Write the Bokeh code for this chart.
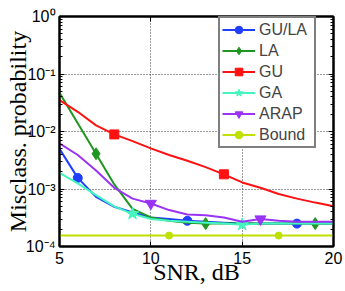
from bokeh.plotting import figure
from bokeh.models import (FixedTicker, CustomJSTickFormatter, Legend, LegendItem,
                          LinearAxis, LogAxis, CustomLabelingPolicy)
from bokeh.embed import file_html
from bokeh.resources import INLINE

snr = [5, 6, 7, 8, 9, 10, 11, 12, 13, 14, 15, 16, 17, 18, 19, 20]

gula = [0.005, 0.00156, 0.00073, 0.00049, 0.00039, 0.00032, 0.0003, 0.00028,
        0.00027, 0.00026, 0.00025, 0.00025, 0.00025, 0.00025, 0.00025, 0.00025]
la = [0.047, 0.0139, 0.0041, 0.0012, 0.00045, 0.00032, 0.00028, 0.00026,
      0.00025, 0.00025, 0.00025, 0.00025, 0.00025, 0.00025, 0.00025, 0.00025]
gu = [0.035, 0.022, 0.0128, 0.0089, 0.0068, 0.0051, 0.0039, 0.0031,
      0.0024, 0.0018, 0.0013, 0.00105, 0.00082, 0.00068, 0.00058, 0.0005]
ga = [0.0019, 0.00125, 0.00078, 0.0005, 0.00037, 0.0003, 0.00028, 0.00027,
      0.00026, 0.00025, 0.00024, 0.00025, 0.00025, 0.00025, 0.00025, 0.00025]
arap = [0.0062, 0.0039, 0.0021, 0.00105, 0.00068, 0.00056, 0.00043, 0.00036,
        0.00035, 0.00032, 0.00027, 0.0003, 0.00028, 0.00027, 0.00027, 0.00027]
bound = [0.000155] * 16

gula_marks = [6, 12, 18]
la_marks = [7, 13, 19]
gu_marks = [8, 14]
ga_marks = [9, 15]
arap_marks = [10, 16]
bound_marks = [11, 17]

labels = ["GU/LA", "LA", "GU", "GA", "ARAP", "Bound"]
x_ticks = [5, 10, 15, 20]
y_ticks = [1e-4, 1e-3, 1e-2, 1e-1, 1]

series = [
    (gula, gula_marks, "#1f3fff", "circle", 9),
    (la, la_marks, "#1f961f", "diamond", 12),
    (gu, gu_marks, "#ff1111", "square", 9),
    (ga, ga_marks, "#44f5bf", "star", 13),
    (arap, arap_marks, "#9a33f5", "inverted_triangle", 11),
    (bound, bound_marks, "#bfe000", "circle", 7),
]

p = figure(width=345, height=291, x_range=(5, 20), y_range=(1e-4, 1),
           y_axis_type="log", output_backend="svg", toolbar_location=None,
           min_border_left=59, min_border_right=12, min_border_top=16,
           min_border_bottom=45)
p.background_fill_color = "white"
p.border_fill_color = "white"
p.outline_line_color = "black"
p.outline_line_width = 2

minor = [m * 10.0 ** e for e in range(-4, 0) for m in range(2, 10)]
fmt = CustomJSTickFormatter(code="""
const e = Math.round(Math.log10(tick));
const sup = {'-':'\u207b','0':'\u2070','1':'\u00b9','2':'\u00b2','3':'\u00b3','4':'\u2074'};
return '10' + String(e).split('').map(c => sup[c]).join('');
""")

p.xaxis.ticker = FixedTicker(ticks=x_ticks)
p.yaxis.ticker = FixedTicker(ticks=y_ticks, minor_ticks=minor)
p.yaxis.formatter = fmt

for ax in (p.xaxis, p.yaxis):
    ax.axis_line_color = "black"
    ax.axis_line_width = 2
    ax.major_tick_in = 5
    ax.major_tick_out = 0
    ax.minor_tick_in = 3
    ax.minor_tick_out = 0
    ax.major_tick_line_color = "black"
    ax.minor_tick_line_color = "black"
    ax.major_label_text_font = "Liberation Sans"
    ax.major_label_text_font_size = "16px"
    ax.major_label_text_color = "black"
    ax.major_label_text_line_height = 0.9
    ax.axis_label_text_font = "Liberation Serif"
    ax.axis_label_text_font_size = "24px"
    ax.axis_label_text_font_style = "normal"
    ax.axis_label_text_color = "black"
    ax.axis_label_text_line_height = 0.8

p.xaxis.axis_label = "SNR, dB"
p.yaxis.axis_label = "Misclass. probability"
p.xaxis.major_label_standoff = 5
p.yaxis.major_label_standoff = 4
p.xaxis.axis_label_standoff = -8
p.yaxis.axis_label_standoff = -8

hide_all = "for (const i of indices) indices.unset(i)"
top = LinearAxis(ticker=FixedTicker(ticks=x_ticks),
                 formatter=CustomJSTickFormatter(code="return ''"),
                 major_label_policy=CustomLabelingPolicy(code=hide_all),
                 major_label_standoff=0, major_tick_in=5, major_tick_out=0,
                 axis_line_width=2)
right = LogAxis(ticker=FixedTicker(ticks=y_ticks, minor_ticks=minor),
                formatter=CustomJSTickFormatter(code="return ''"),
                major_label_policy=CustomLabelingPolicy(code=hide_all),
                major_label_standoff=0,
                major_tick_in=5, major_tick_out=0, minor_tick_in=3, minor_tick_out=0,
                axis_line_width=2)
p.add_layout(top, "above")
p.add_layout(right, "right")

p.xgrid.ticker = FixedTicker(ticks=x_ticks)
p.ygrid.ticker = FixedTicker(ticks=y_ticks)
for g in (p.xgrid, p.ygrid):
    g.grid_line_color = "#222222"
    g.grid_line_dash = "1 2"
    g.grid_line_width = 1
    g.grid_line_alpha = 0.9

items = []
for lab, (vals, marks, col, mk, sz) in zip(labels, series):
    lr = p.line(snr, vals, line_color=col, line_width=2)
    mx = [s for s in marks]
    my = [vals[snr.index(s)] for s in marks]
    sr = p.scatter(mx, my, marker=mk, size=sz, fill_color=col, line_color=col)
    items.append(LegendItem(label=lab, renderers=[lr, sr]))

legend = Legend(items=items, location=(159, 98), border_line_color="black",
                border_line_width=2, background_fill_color="white",
                background_fill_alpha=1, label_text_font="Liberation Sans",
                label_text_font_size="16px", glyph_width=33, glyph_height=19,
                label_height=19, label_width=53, spacing=2, padding=2, margin=0,
                label_standoff=4)
p.add_layout(legend)

open("out.html", "w").write(file_html(p, INLINE))
